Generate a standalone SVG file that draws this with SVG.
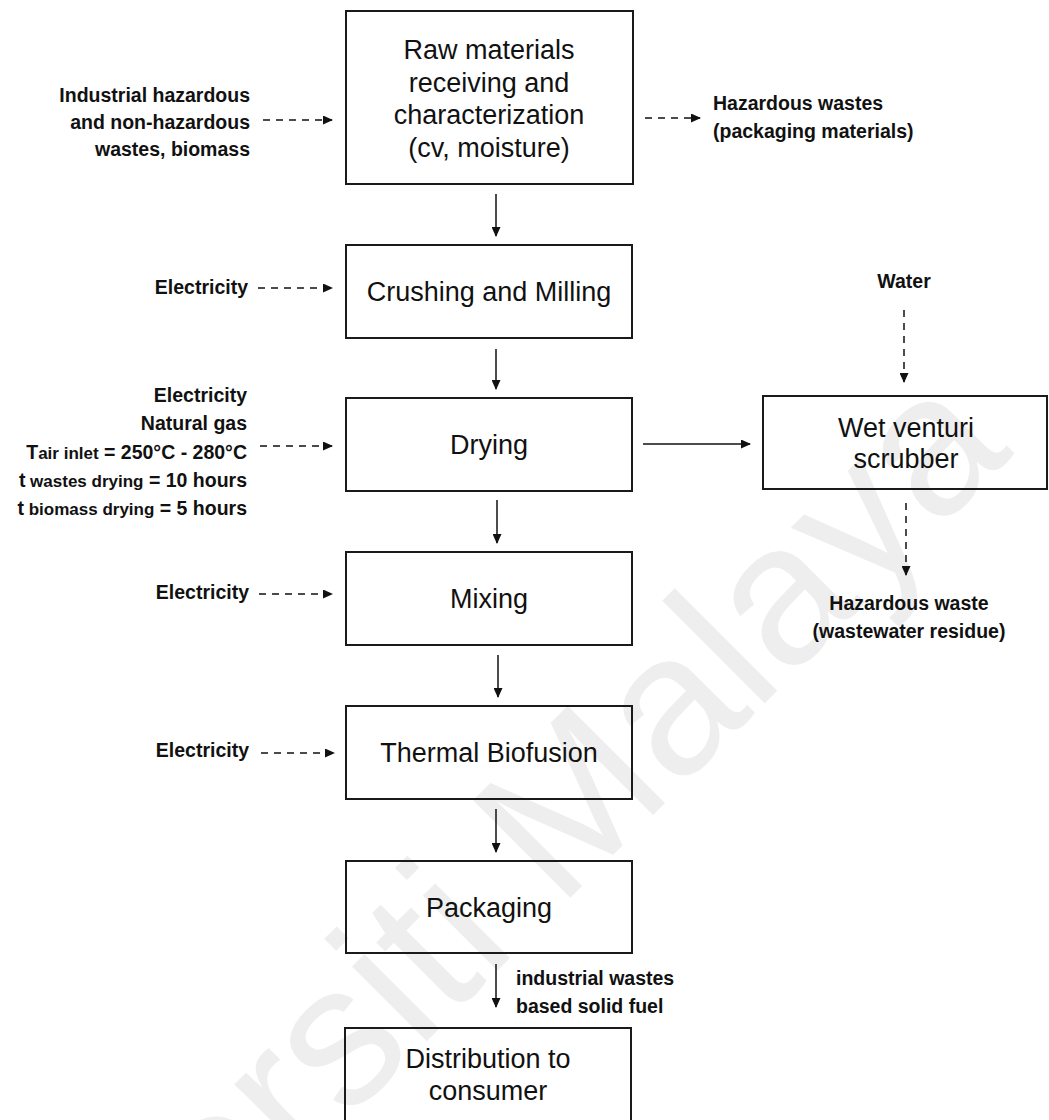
<svg xmlns="http://www.w3.org/2000/svg" width="1049" height="1120" viewBox="0 0 1049 1120">
  <defs>
    <marker id="head" markerUnits="userSpaceOnUse" markerWidth="10" markerHeight="9" viewBox="0 0 10 9" refX="9" refY="4.5" orient="auto">
      <path d="M0,0 L10,4.5 L0,9 z" fill="#111"/>
    </marker>
    <style>
      .box { fill: none; stroke: #1a1a1a; stroke-width: 2; }
      .step { font-family: "Liberation Sans", Arial, sans-serif; font-size: 27px; fill: #111; text-anchor: middle; }
      .lbl { font-family: "Liberation Sans", Arial, sans-serif; font-size: 19.5px; font-weight: bold; fill: #111; }
      .sub { font-size: 17px; }
      .flow { fill: none; stroke: #111; stroke-width: 1.5; marker-end: url(#head); }
      .dash { stroke-dasharray: 7 6; }
      .mark { font-family: "Liberation Sans", Arial, sans-serif; font-size: 200px; fill: #eeeeee; }
    </style>
  </defs>
  <rect width="1049" height="1120" fill="#ffffff"/>

  <!-- faint background watermark -->
  <text class="mark" transform="translate(-62,1530) rotate(-45)">Universiti Malaya</text>

  <!-- process steps -->
  <g id="raw-materials">
    <rect class="box" x="346" y="11" width="287" height="173"/>
    <text class="step" x="489" y="59">Raw materials</text>
    <text class="step" x="489" y="92">receiving and</text>
    <text class="step" x="489" y="124">characterization</text>
    <text class="step" x="489" y="157">(cv, moisture)</text>
  </g>
  <g id="crushing">
    <rect class="box" x="346" y="245" width="286" height="93"/>
    <text class="step" x="489" y="301">Crushing and Milling</text>
  </g>
  <g id="drying">
    <rect class="box" x="346" y="398" width="286" height="93"/>
    <text class="step" x="489" y="454">Drying</text>
  </g>
  <g id="mixing">
    <rect class="box" x="346" y="552" width="286" height="93"/>
    <text class="step" x="489" y="608">Mixing</text>
  </g>
  <g id="thermal-biofusion">
    <rect class="box" x="346" y="706" width="286" height="93"/>
    <text class="step" x="489" y="762">Thermal Biofusion</text>
  </g>
  <g id="packaging">
    <rect class="box" x="346" y="861" width="286" height="92"/>
    <text class="step" x="489" y="917">Packaging</text>
  </g>
  <g id="distribution">
    <rect class="box" x="345" y="1028" width="286" height="100"/>
    <text class="step" x="488" y="1068">Distribution to</text>
    <text class="step" x="488" y="1100">consumer</text>
  </g>
  <g id="scrubber">
    <rect class="box" x="763" y="396" width="284" height="93"/>
    <text class="step" x="906" y="437">Wet venturi</text>
    <text class="step" x="906" y="468">scrubber</text>
  </g>

  <!-- inputs and outputs -->
  <g id="in-wastes">
    <text class="lbl" text-anchor="end" x="250" y="102">Industrial hazardous</text>
    <text class="lbl" text-anchor="end" x="250" y="129">and non-hazardous</text>
    <text class="lbl" text-anchor="end" x="250" y="156">wastes, biomass</text>
  </g>
  <g id="out-packaging-waste">
    <text class="lbl" x="713" y="110">Hazardous wastes</text>
    <text class="lbl" x="713" y="138">(packaging materials)</text>
  </g>
  <g id="in-electricity-crushing">
    <text class="lbl" text-anchor="end" x="248" y="294">Electricity</text>
  </g>
  <g id="in-drying">
    <text class="lbl" text-anchor="end" x="247" y="402">Electricity</text>
    <text class="lbl" text-anchor="end" x="247" y="430">Natural gas</text>
    <text class="lbl" text-anchor="end" x="247" y="459">T<tspan class="sub">air inlet</tspan> = 250°C - 280°C</text>
    <text class="lbl" text-anchor="end" x="247" y="487">t<tspan class="sub"> wastes drying</tspan> = 10 hours</text>
    <text class="lbl" text-anchor="end" x="247" y="515">t<tspan class="sub"> biomass drying</tspan> = 5 hours</text>
  </g>
  <g id="in-electricity-mixing">
    <text class="lbl" text-anchor="end" x="249" y="599">Electricity</text>
  </g>
  <g id="in-electricity-thermal">
    <text class="lbl" text-anchor="end" x="249" y="757">Electricity</text>
  </g>
  <g id="in-water">
    <text class="lbl" text-anchor="middle" x="904" y="288">Water</text>
  </g>
  <g id="out-wastewater">
    <text class="lbl" text-anchor="middle" x="909" y="610">Hazardous waste</text>
    <text class="lbl" text-anchor="middle" x="909" y="638">(wastewater residue)</text>
  </g>
  <g id="product-label">
    <text class="lbl" x="516" y="985">industrial wastes</text>
    <text class="lbl" x="516" y="1013">based solid fuel</text>
  </g>

  <!-- connectors -->
  <g id="connectors">
    <line class="flow" x1="496" y1="194" x2="496" y2="236"/>
    <line class="flow" x1="496" y1="349" x2="496" y2="389"/>
    <line class="flow" x1="497" y1="500" x2="497" y2="543"/>
    <line class="flow" x1="498" y1="655" x2="498" y2="697"/>
    <line class="flow" x1="496" y1="809" x2="496" y2="852"/>
    <line class="flow" x1="496" y1="964" x2="496" y2="1007"/>
    <line class="flow" x1="643" y1="444" x2="750" y2="444"/>

    <line class="flow dash" x1="263" y1="120" x2="332" y2="120"/>
    <line class="flow dash" x1="645" y1="118" x2="700" y2="118"/>
    <line class="flow dash" x1="258" y1="288" x2="332" y2="288"/>
    <line class="flow dash" x1="260" y1="446" x2="332" y2="446"/>
    <line class="flow dash" x1="259" y1="594" x2="332" y2="594"/>
    <line class="flow dash" x1="261" y1="753" x2="334" y2="753"/>
    <line class="flow dash" x1="904" y1="310" x2="904" y2="382"/>
    <line class="flow dash" x1="906" y1="503" x2="906" y2="575"/>
  </g>
</svg>
